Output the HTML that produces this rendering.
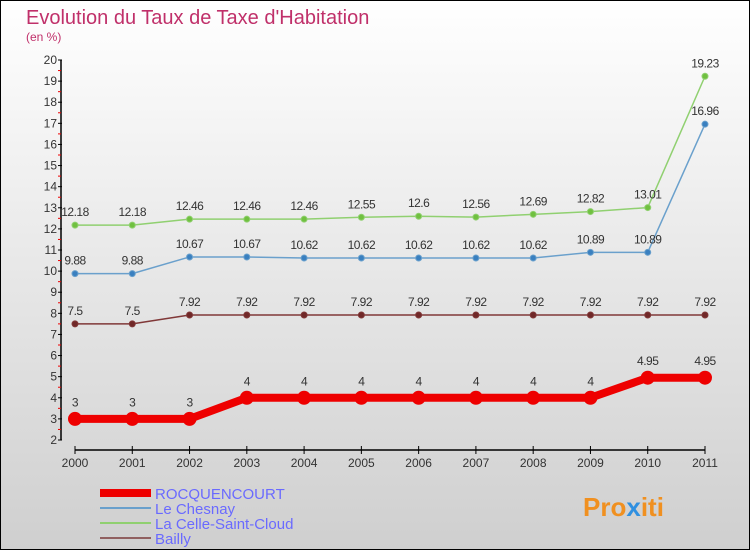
<!DOCTYPE html>
<html><head><meta charset="utf-8"><style>
body{margin:0}
svg{display:block;font-family:"Liberation Sans",sans-serif}
</style></head><body>
<svg width="750" height="550" id="c">
<defs><linearGradient id="bg" x1="0" y1="0" x2="0" y2="1"><stop offset="0" stop-color="#ffffff"/><stop offset="1" stop-color="#cfcfcf"/></linearGradient></defs>
<rect x="0.5" y="0.5" width="749" height="549" fill="url(#bg)" stroke="#000"/>
<text x="26" y="24" font-size="20" fill="#c0306a">Evolution du Taux de Taxe d'Habitation</text>
<text x="26" y="41" font-size="12" fill="#c0306a">(en %)</text>
<g id="axes"></g><g id="series"></g>
<g>
<rect x="100" y="489" width="51" height="8" fill="#e00"/>
<text x="155" y="499" font-size="15" fill="#6a6aff">ROCQUENCOURT</text>
<rect x="100" y="507" width="51" height="2" fill="#6aa0cc"/>
<text x="155" y="514" font-size="15" fill="#6a6aff">Le Chesnay</text>
<rect x="100" y="522" width="51" height="2" fill="#90d070"/>
<text x="155" y="529" font-size="15" fill="#6a6aff">La Celle-Saint-Cloud</text>
<rect x="100" y="537" width="51" height="2" fill="#906060"/>
<text x="155" y="544" font-size="15" fill="#6a6aff">Bailly</text>
</g>
<text x="583" y="516" font-size="26" font-weight="bold" fill="#f09020">Pro<tspan fill="#3090e0">x</tspan>iti</text>
</svg>
<script>
const years=[2000,2001,2002,2003,2004,2005,2006,2007,2008,2009,2010,2011];
const rocq=[3,3,3,4,4,4,4,4,4,4,4.95,4.95];
const chesnay=[9.88,9.88,10.67,10.67,10.62,10.62,10.62,10.62,10.62,10.89,10.89,16.96];
const celle=[12.18,12.18,12.46,12.46,12.46,12.55,12.6,12.56,12.69,12.82,13.01,19.23];
const bailly=[7.5,7.5,7.92,7.92,7.92,7.92,7.92,7.92,7.92,7.92,7.92,7.92];
const yTicks=[2,3,4,5,6,7,8,9,10,11,12,13,14,15,16,17,18,19,20];
const NS="http://www.w3.org/2000/svg";
const xs=i=>75+i*(630/(years.length-1));
const ys=v=>440-(v-2)*(380/18);
function el(t,a,p){const e=document.createElementNS(NS,t);for(const k in a)e.setAttribute(k,a[k]);p.appendChild(e);return e;}
const ax=document.getElementById('axes');
let l=el('line',{x1:61,y1:ys(20),x2:61,y2:ys(2),stroke:'#000','stroke-width':1.5},ax);


yTicks.forEach(v=>{
 const t=el('line',{x1:58,x2:62,y1:ys(v),y2:ys(v),stroke:'#000'},ax);
 
 
 if(v<20){const m=el('line',{x1:58,x2:61,y1:ys(v+0.5),y2:ys(v+0.5),stroke:'#e00'},ax);
 
 }
 const tx=el('text',{x:57,y:ys(v)+4,'font-size':12,fill:'#333','text-anchor':'end'},ax);tx.textContent=v;
 
 
});
l=el('line',{x1:75,x2:705,y1:450,y2:450,stroke:'#000','stroke-width':1.5},ax);


years.forEach((y,i)=>{
 const t=el('line',{x1:xs(i),x2:xs(i),y1:446,y2:454,stroke:'#000'},ax);
 
 
 const tx=el('text',{x:xs(i),y:467,'font-size':12,fill:'#333','text-anchor':'middle'},ax);tx.textContent=y;
 
 
});
const sg=document.getElementById('series');
function draw(vals,color,w,r,name,dot){
 const pts=vals.map((v,i)=>xs(i)+','+ys(v)).join(' ');
 const pl=el('polyline',{points:pts,fill:'none',stroke:color,'stroke-width':w,'stroke-linejoin':'round'},sg);
 
 
 vals.forEach((v,i)=>{
  const c=el('circle',{cx:xs(i),cy:ys(v),r:r,fill:dot,stroke:color,'stroke-width':1},sg);
  
  
  const tx=el('text',{x:xs(i),y:ys(v)-(r+6),'font-size':12,fill:'#333','text-anchor':'middle','letter-spacing':'-0.5'},sg);tx.textContent=v;
  
  
 });
}
draw(bailly,'#803838',1.5,3,'bailly','#702828');
draw(chesnay,'#6aa0cc',1.5,3,'le-chesnay','#3a80c0');
draw(celle,'#90d070',1.5,3,'la-celle','#70c040');
draw(rocq,'#ee0000',8,6.5,'rocquencourt','#ee0000');
</script>
</body></html>
